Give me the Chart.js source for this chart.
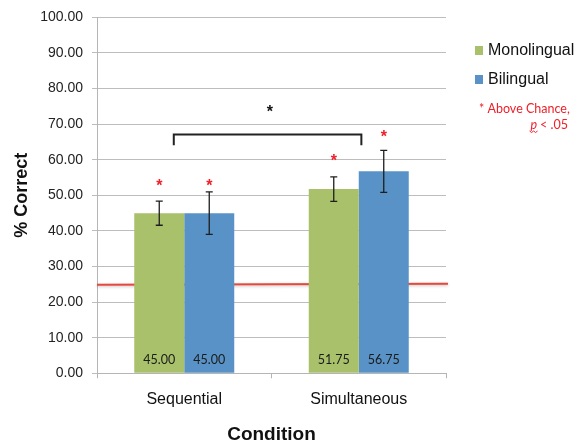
<!DOCTYPE html>
<html>
<head>
<meta charset="utf-8">
<script src="https://cdn.jsdelivr.net/npm/chart.js@4.4.1/dist/chart.umd.min.js"></script>
<style>
  html, body { margin: 0; padding: 0; background: #fff; }
  #wrap { width: 579px; height: 442px; position: relative; }
</style>
</head>
<body>
<div id="wrap"><canvas id="chart"></canvas></div>
<script>
const categories = ["Sequential", "Simultaneous"];
const seriesNames = ["Monolingual", "Bilingual"];
const monolingual = [45.0, 51.75];
const bilingual = [45.0, 56.75];
const monoErr = [3.4, 3.45];
const biErr = [5.95, 5.9];
// red "above chance" asterisks (y values)
const monoStars = [53.2, 60.2];
const biStars = [53.2, 67.1];
const chanceLevel = 25;
// significance bracket between conditions
const bracketX = [-0.06, 1.015];
const bracketTop = 67.1;
const bracketEnd = 64.1;
const sigStar = { x: 0.49, y: 74.1 };
const yMin = 0, yMax = 100, yStep = 10;

const green = "rgb(169,193,107)";
const blue = "rgb(88,146,198)";

const extras = {
  id: "extras",
  beforeDatasetsDraw(chart) {
    const { ctx, chartArea, scales } = chart;
    const y = scales.y.getPixelForValue(chanceLevel);
    ctx.save();
    ctx.strokeStyle = "#e8473c";
    ctx.lineWidth = 2;
    ctx.shadowColor = "rgba(0,0,0,0.25)";
    ctx.shadowBlur = 3;
    ctx.shadowOffsetY = 1;
    ctx.beginPath();
    ctx.moveTo(chartArea.left, y + 0.5);
    ctx.lineTo(chartArea.right + 2, y - 0.5);
    ctx.stroke();
    ctx.restore();
  },
  afterDatasetsDraw(chart) {
    const { ctx, scales } = chart;
    const ys = scales.y, xs = scales.x;
    const errs = [monoErr, biErr];
    const stars = [monoStars, biStars];
    ctx.save();
    chart.data.datasets.forEach((ds, di) => {
      const meta = chart.getDatasetMeta(di);
      meta.data.forEach((bar, i) => {
        const v = ds.data[i];
        const x = bar.x;
        // error bar
        const top = ys.getPixelForValue(v + errs[di][i]);
        const bot = ys.getPixelForValue(v - errs[di][i]);
        ctx.strokeStyle = "#1e1e1e";
        ctx.lineWidth = 1.3;
        ctx.beginPath();
        ctx.moveTo(x, top); ctx.lineTo(x, bot);
        ctx.moveTo(x - 3.5, top); ctx.lineTo(x + 3.5, top);
        ctx.moveTo(x - 3.5, bot); ctx.lineTo(x + 3.5, bot);
        ctx.stroke();
        // value label
        ctx.fillStyle = "#1a1a1a";
        ctx.font = "12.5px Lato";
        ctx.textAlign = "center";
        ctx.textBaseline = "middle";
        ctx.fillText(v.toFixed(2), x, ys.getPixelForValue(0) - 13);
        // red star
        ctx.fillStyle = "#f0202a";
        ctx.font = "bold 16px 'Liberation Sans'";
        ctx.fillText("*", x, ys.getPixelForValue(stars[di][i]) + 3);
      });
    });
    // bracket
    const bx0 = xs.getPixelForValue(bracketX[0]);
    const bx1 = xs.getPixelForValue(bracketX[1]);
    const bt = ys.getPixelForValue(bracketTop);
    const be = ys.getPixelForValue(bracketEnd);
    ctx.strokeStyle = "#222";
    ctx.lineWidth = 2;
    ctx.beginPath();
    ctx.moveTo(bx0, be); ctx.lineTo(bx0, bt); ctx.lineTo(bx1, bt); ctx.lineTo(bx1, be);
    ctx.stroke();
    ctx.fillStyle = "#111";
    ctx.font = "bold 16px 'Liberation Sans'";
    ctx.textAlign = "center";
    ctx.textBaseline = "middle";
    ctx.fillText("*", xs.getPixelForValue(sigStar.x), ys.getPixelForValue(sigStar.y) + 3);
    ctx.restore();
  },
  afterDraw(chart) {
    const { ctx } = chart;
    const colors = [green, blue];
    const rows = [51, 80];
    ctx.save();
    seriesNames.forEach((name, i) => {
      ctx.fillStyle = colors[i];
      ctx.fillRect(475, rows[i] - 5, 8, 9);
      ctx.fillStyle = "#111";
      ctx.font = "16px 'Liberation Sans'";
      ctx.textAlign = "left";
      ctx.textBaseline = "middle";
      ctx.fillText(name, 488, rows[i]);
    });
    ctx.fillStyle = "#f0202a";
    ctx.font = "12.5px Lato";
    ctx.textAlign = "left";
    ctx.textBaseline = "middle";
    ctx.fillText("* Above Chance,", 479, 109);
    ctx.textAlign = "right";
    ctx.fillText("< .05", 568, 125);
    const w = ctx.measureText("< .05").width;
    ctx.font = "italic 12.5px Lato";
    ctx.fillText("p ", 568 - w, 125);
    const pw = ctx.measureText("p").width;
    const px = 568 - w - ctx.measureText("p ").width;
    ctx.strokeStyle = "#f0202a";
    ctx.lineWidth = 1;
    ctx.beginPath();
    for (let k = 0; k <= pw + 2; k += 2) {
      const yy = 131 + (k % 4 === 0 ? 0 : 1.5);
      if (k === 0) ctx.moveTo(px - 1 + k, yy); else ctx.lineTo(px - 1 + k, yy);
    }
    ctx.stroke();
    ctx.restore();
  }
};

new Chart(document.getElementById("chart"), {
  type: "bar",
  data: {
    labels: categories,
    datasets: [
      { label: seriesNames[0], data: monolingual, backgroundColor: green },
      { label: seriesNames[1], data: bilingual, backgroundColor: blue },
    ],
  },
  options: {
    responsive: true,
    maintainAspectRatio: false,
    animation: false,
    categoryPercentage: 0.573,
    barPercentage: 1.0,
    layout: { padding: { top: 13, right: 133, bottom: 0, left: 0 } },
    plugins: {
      legend: { display: false },
      tooltip: { enabled: false },
    },
    scales: {
      x: {
        afterFit: (s) => { s.height = 68.7; },
        grid: { drawOnChartArea: false, tickLength: 5, color: "#b5b5b5" },
        border: { color: "#b5b5b5" },
        ticks: { color: "#111", font: { family: "Liberation Sans", size: 16 }, padding: 12 },
        title: {
          display: true,
          text: "Condition",
          color: "#111",
          font: { family: "Liberation Sans", size: 19, weight: "bold", lineHeight: 0.8 },
          padding: { top: 0, bottom: 0 },
        },
      },
      y: {
        min: yMin,
        max: yMax,
        afterFit: (s) => { s.width = 97; },
        grid: { color: "#bdbdbd", tickLength: 5 },
        border: { color: "#b5b5b5" },
        ticks: {
          stepSize: yStep,
          color: "#222",
          font: { family: "Liberation Sans", size: 14 },
          padding: 9,
          callback: (v) => Number(v).toFixed(2),
        },
        title: {
          display: true,
          text: "% Correct",
          color: "#111",
          font: { family: "Liberation Sans", size: 18, weight: "bold" },
          padding: { top: 11, bottom: 0 },
        },
      },
    },
  },
  plugins: [extras],
});
</script>
</body>
</html>
